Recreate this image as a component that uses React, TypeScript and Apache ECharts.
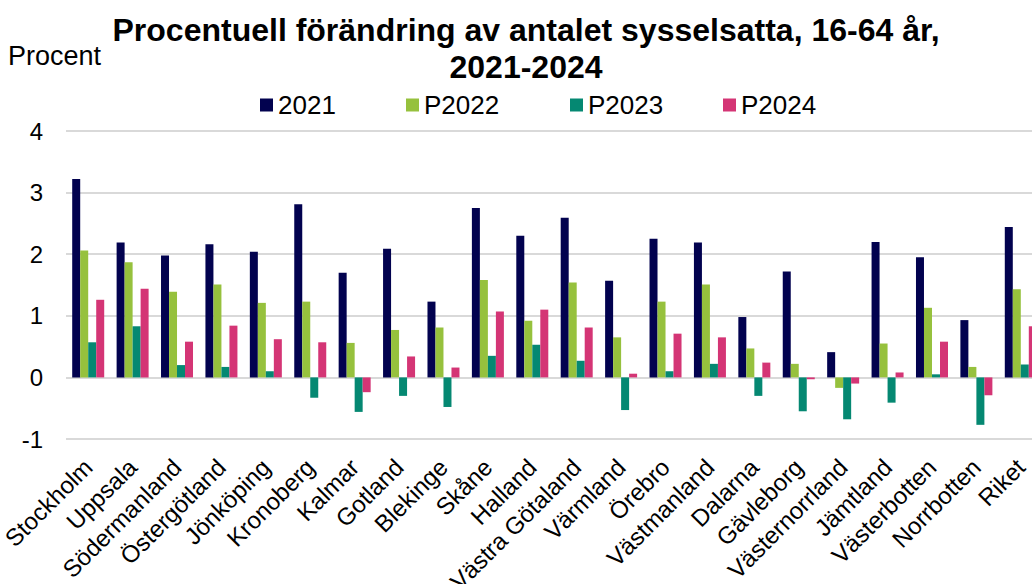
import React, { useEffect, useRef } from "react";
import * as echarts from "echarts";

const categories = [
  "Stockholm", "Uppsala", "Södermanland", "Östergötland", "Jönköping", "Kronoberg",
  "Kalmar", "Gotland", "Blekinge", "Skåne", "Halland", "Västra Götaland", "Värmland",
  "Örebro", "Västmanland", "Dalarna", "Gävleborg", "Västernorrland", "Jämtland",
  "Västerbotten", "Norrbotten", "Riket",
];
const seriesNames = ["2021", "P2022", "P2023", "P2024"];
const v2021 = [3.22, 2.19, 1.98, 2.16, 2.04, 2.81, 1.70, 2.09, 1.23, 2.75, 2.30, 2.59, 1.57, 2.25, 2.19, 0.98, 1.72, 0.41, 2.20, 1.95, 0.93, 2.44];
const p2022 = [2.06, 1.87, 1.39, 1.51, 1.21, 1.23, 0.56, 0.77, 0.81, 1.58, 0.92, 1.54, 0.65, 1.23, 1.51, 0.47, 0.22, -0.17, 0.55, 1.13, 0.17, 1.43];
const p2023 = [0.57, 0.83, 0.20, 0.17, 0.10, -0.33, -0.56, -0.30, -0.48, 0.35, 0.53, 0.27, -0.53, 0.10, 0.22, -0.30, -0.55, -0.68, -0.41, 0.05, -0.77, 0.21];
const p2024 = [1.26, 1.44, 0.58, 0.84, 0.62, 0.57, -0.24, 0.34, 0.16, 1.07, 1.10, 0.81, 0.06, 0.71, 0.65, 0.24, -0.03, -0.10, 0.08, 0.58, -0.29, 0.83];
const colors = ["#02024f", "#96c13d", "#058872", "#d43575"];
const titleLines = ["Procentuell förändring av antalet sysselsatta, 16-64 år,", "2021-2024"];
const yUnit = "Procent";

const FONT = "Arial, 'Liberation Sans', Helvetica, sans-serif";
const legendLefts = [260, 406, 570, 723];

export default function App() {
  const ref = useRef<HTMLDivElement>(null);
  useEffect(() => {
    if (!ref.current) return;
    const chart = echarts.init(ref.current, undefined, { renderer: "svg" });
    const data = [v2021, p2022, p2023, p2024];
    chart.setOption({
      animation: false,
      backgroundColor: "#ffffff",
      textStyle: { fontFamily: FONT },
      graphic: [
        {
          type: "text", x: 526, y: 29.5,
          style: { text: titleLines[0], fill: "#000", font: `bold 32px ${FONT}`, align: "center", verticalAlign: "middle" },
        },
        {
          type: "text", x: 526, y: 66.5,
          style: { text: titleLines[1], fill: "#000", font: `bold 32px ${FONT}`, align: "center", verticalAlign: "middle" },
        },
        {
          type: "text", x: 8, y: 56,
          style: { text: yUnit, fill: "#000", font: `27px ${FONT}`, align: "left", verticalAlign: "middle" },
        },
      ],
      legend: seriesNames.map((name, i) => ({
        data: [name],
        left: legendLefts[i],
        top: 92,
        padding: 0,
        itemWidth: 13,
        itemHeight: 13,
        icon: "rect",
        textStyle: { fontSize: 26, color: "#000", fontFamily: FONT },
      })),
      grid: { left: 66, right: 0, top: 131, bottom: 145, containLabel: false, outerBoundsMode: "none" },
      xAxis: {
        type: "category",
        data: categories,
        axisLine: { show: false, onZero: false },
        axisTick: { show: false },
        axisLabel: { rotate: 45, fontSize: 24, color: "#000", margin: 24, interval: 0, fontFamily: FONT },
      },
      yAxis: {
        type: "value",
        min: -1,
        max: 4,
        interval: 1,
        axisLine: { show: false },
        axisTick: { show: false },
        splitLine: { lineStyle: { color: "#d9d9d9", width: 2 } },
        axisLabel: { fontSize: 24, color: "#000", margin: 23, fontFamily: FONT },
      },
      series: seriesNames.map((name, i) => ({
        name,
        type: "bar",
        data: data[i],
        barWidth: 8,
        barGap: "0%",
        itemStyle: { color: colors[i] },
      })),
    });
    return () => chart.dispose();
  }, []);
  return (
    <div style={{ position: "absolute", left: 0, top: 0, width: 1032, height: 584, overflow: "hidden" }}>
      <div ref={ref} style={{ width: 1043, height: 584 }} />
    </div>
  );
}
